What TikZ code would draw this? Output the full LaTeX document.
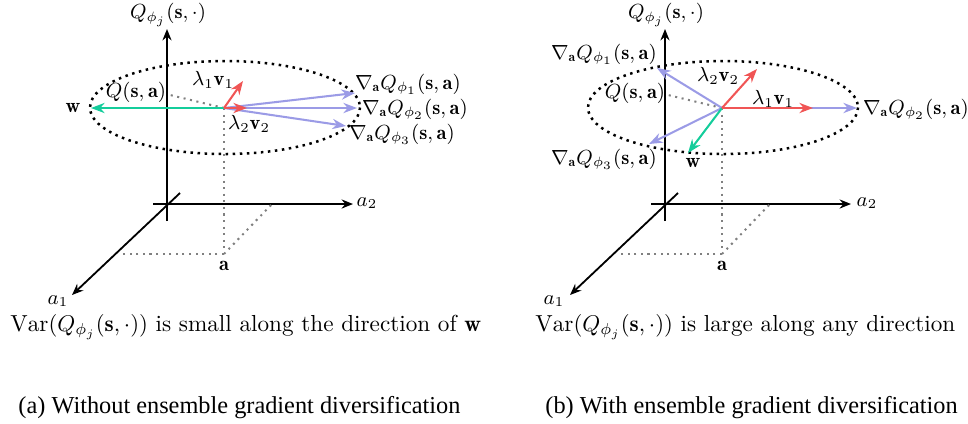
\documentclass[tikz,border=0pt]{standalone}
\usepackage{fontspec}
\newfontfamily\capfont{Liberation Serif}
\usetikzlibrary{arrows.meta}
\definecolor{gradblue}{RGB}{155,155,230}
\definecolor{eigred}{RGB}{240,85,85}
\definecolor{wgreen}{RGB}{20,205,155}
\tikzset{
  axis/.style={line width=0.8pt,-{Stealth[length=5pt,width=4pt]}},
  axisplain/.style={line width=0.8pt},
  proj/.style={gray,line width=0.9pt,dotted},
  ell/.style={black,line width=1.1pt,dotted},
  grad/.style={gradblue,line width=0.9pt,-{Stealth[length=6pt,width=4.5pt]}},
  eig/.style={eigred,line width=0.9pt,-{Stealth[length=6pt,width=4.5pt]}},
  wvec/.style={wgreen,line width=0.9pt,-{Stealth[length=6pt,width=4.5pt]}},
  lbl/.style={inner sep=1pt,font=\fontsize{9}{11}\selectfont},
  varcap/.style={inner sep=0pt,font=\fontsize{10.2}{12}\selectfont},
  subcap/.style={inner sep=0pt,font=\capfont\fontsize{10.7}{13}\selectfont}
}
\begin{document}
\begin{tikzpicture}[x=0.44pt,y=-0.44pt]
\useasboundingbox (0,0) rectangle (968,423);
% ---------------- left panel ----------------
\begin{scope}
  \coordinate (LO) at (167,204);
  \coordinate (LQtop) at (167,29);
  \coordinate (LQbot) at (167,221);
  \coordinate (La2s) at (153,204);
  \coordinate (La2e) at (353,204);
  \coordinate (La1s) at (180,193);
  \coordinate (La1e) at (72,295);
  \coordinate (LP) at (224,108);
  \coordinate (LA) at (224,254);
  \coordinate (LAx) at (122,254);
  \coordinate (LAy) at (272,204);
  \coordinate (LQp) at (170,95);
  \draw[axisplain] (LQbot) -- (LO);
  \draw[axis] (LO) -- (LQtop);
  \draw[axisplain] (La2s) -- (LO);
  \draw[axis] (LO) -- (La2e);
  \draw[axis] (La1s) -- (La1e);
  \draw[proj] (LP) -- (LA);
  \draw[proj] (LA) -- (LAx);
  \draw[proj] (LA) -- (LAy);
  \draw[proj] (LP) -- (LQp);
  \draw[ell] (225,107.5) ellipse [x radius=135, y radius=46.5];
  \coordinate (Lg1) at (355,93);
  \coordinate (Lg2) at (357,108);
  \coordinate (Lg3) at (346,126);
  \coordinate (Lv1) at (243,81);
  \coordinate (Lv2) at (247,108);
  \coordinate (Lw) at (91,108);
  \draw[wvec] (LP) -- (Lw);
  \draw[grad] (LP) -- (Lg1);
  \draw[grad] (LP) -- (Lg2);
  \draw[grad] (LP) -- (Lg3);
  \draw[eig] (LP) -- (Lv1);
  \draw[eig] (LP) -- (Lv2);
  \node[lbl] (LQl) at (168,15) {$Q_{\phi_j}(\mathbf{s},\cdot)$};
  \node[lbl] (Lwl) at (73,108) {$\mathbf{w}$};
  \node[lbl] (LQsa) at (136,92) {$Q(\mathbf{s},\mathbf{a})$};
  \node[lbl] (Lv1l) at (213,80) {$\lambda_1\mathbf{v}_1$};
  \node[lbl] (Lv2l) at (249,124) {$\lambda_2\mathbf{v}_2$};
  \node[lbl] (Lg1l) at (408,84) {$\nabla_{\mathbf{a}}Q_{\phi_1}(\mathbf{s},\mathbf{a})$};
  \node[lbl] (Lg2l) at (415,109) {$\nabla_{\mathbf{a}}Q_{\phi_2}(\mathbf{s},\mathbf{a})$};
  \node[lbl] (Lg3l) at (402,134) {$\nabla_{\mathbf{a}}Q_{\phi_3}(\mathbf{s},\mathbf{a})$};
  \node[lbl] (La2l) at (367,203) {$a_2$};
  \node[lbl] (La1l) at (58,301) {$a_1$};
  \node[lbl] (LAl) at (224,266) {$\mathbf{a}$};
  \node[varcap,anchor=west] (Lcap) at (10,327) {$\mathrm{Var}(Q_{\phi_j}(\mathbf{s},\cdot))$ is small along the direction of $\mathbf{w}$};
  \node[subcap,anchor=west] (Lsub) at (18,408) {(a) Without ensemble gradient diversification};
\end{scope}
% ---------------- right panel ----------------
\begin{scope}[shift={(498,0)}]
  \coordinate (RO) at (167,204);
  \coordinate (RQtop) at (167,29);
  \coordinate (RQbot) at (167,221);
  \coordinate (Ra2s) at (153,204);
  \coordinate (Ra2e) at (353,204);
  \coordinate (Ra1s) at (180,193);
  \coordinate (Ra1e) at (72,295);
  \coordinate (RP) at (224,108);
  \coordinate (RA) at (224,254);
  \coordinate (RAx) at (122,254);
  \coordinate (RAy) at (272,204);
  \coordinate (RQp) at (170,95);
  \draw[axisplain] (RQbot) -- (RO);
  \draw[axis] (RO) -- (RQtop);
  \draw[axisplain] (Ra2s) -- (RO);
  \draw[axis] (RO) -- (Ra2e);
  \draw[axis] (Ra1s) -- (Ra1e);
  \draw[proj] (RP) -- (RA);
  \draw[proj] (RA) -- (RAx);
  \draw[proj] (RA) -- (RAy);
  \draw[proj] (RP) -- (RQp);
  \draw[ell] (225,107.5) ellipse [x radius=135, y radius=46.5];
  \coordinate (Rg1) at (159,68);
  \coordinate (Rg2) at (359,108);
  \coordinate (Rg3) at (151,144);
  \coordinate (Rv1) at (315,108);
  \coordinate (Rv2) at (259,69);
  \coordinate (Rw) at (190,153);
  \draw[grad] (RP) -- (Rg1);
  \draw[grad] (RP) -- (Rg2);
  \draw[grad] (RP) -- (Rg3);
  \draw[wvec] (RP) -- (Rw);
  \draw[eig] (RP) -- (Rv1);
  \draw[eig] (RP) -- (Rv2);
  \node[lbl] (RQl) at (168,15) {$Q_{\phi_j}(\mathbf{s},\cdot)$};
  \node[lbl] (Rwl) at (195,163) {$\mathbf{w}$};
  \node[lbl] (RQsa) at (137,93) {$Q(\mathbf{s},\mathbf{a})$};
  \node[lbl] (Rv1l) at (275,99) {$\lambda_1\mathbf{v}_1$};
  \node[lbl] (Rv2l) at (220,76) {$\lambda_2\mathbf{v}_2$};
  \node[lbl] (Rg1l) at (106,54) {$\nabla_{\mathbf{a}}Q_{\phi_1}(\mathbf{s},\mathbf{a})$};
  \node[lbl] (Rg2l) at (418,109) {$\nabla_{\mathbf{a}}Q_{\phi_2}(\mathbf{s},\mathbf{a})$};
  \node[lbl] (Rg3l) at (106,159) {$\nabla_{\mathbf{a}}Q_{\phi_3}(\mathbf{s},\mathbf{a})$};
  \node[lbl] (Ra2l) at (369,203) {$a_2$};
  \node[lbl] (Ra1l) at (56,301) {$a_1$};
  \node[lbl] (RAl) at (224,266) {$\mathbf{a}$};
  \node[varcap,anchor=west] (Rcap) at (37,327) {$\mathrm{Var}(Q_{\phi_j}(\mathbf{s},\cdot))$ is large along any direction};
  \node[subcap,anchor=west] (Rsub) at (47,408) {(b) With ensemble gradient diversification};
\end{scope}
\end{tikzpicture}
\end{document}
